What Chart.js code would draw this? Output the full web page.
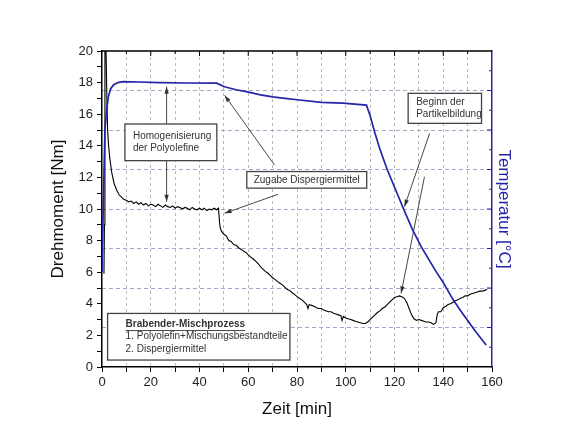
<!DOCTYPE html>
<html>
<head>
<meta charset="utf-8">
<script src="https://cdn.jsdelivr.net/npm/chart.js@4.4.1/dist/chart.umd.min.js"></script>
<style>
  body { margin: 0; background: #fff; }
</style>
</head>
<body>
<canvas id="myChart" width="570" height="440"></canvas>
<script>
// Drehmoment (torque) curve
const torqueTime = [0.8, 1.0, 1.2, 1.6, 2.0, 2.3, 2.7, 3.2, 4, 5, 6, 7, 8, 9, 10, 11,
  12, 13, 14, 15, 16, 17, 18, 19, 20, 21, 22, 23, 24, 25, 26, 27, 28, 29, 30,
  31, 32, 33, 34, 35, 36, 37, 38, 39, 40, 41, 42, 43, 44, 45, 46, 47, 47.8,
  48.2, 48.5, 49, 50, 51, 52, 53, 54, 55, 56, 57, 58, 59, 60, 61, 62, 63, 64,
  65, 66, 67, 68, 69, 70, 71, 72, 73, 74, 75, 76, 77, 78, 79, 80, 81, 82, 83,
  84, 84.5, 85, 86, 87, 88, 89, 90, 91, 92, 93, 94, 95, 96, 97, 98, 98.5, 99,
  100, 101, 102, 103, 104, 105, 106, 107, 108, 109, 110, 111, 112, 113, 114,
  115, 116, 117, 118, 119, 120, 121, 122, 123, 124, 125, 126, 127, 128, 129,
  130, 131, 132, 133, 134, 135, 136, 137, 137.5, 138, 139, 140, 141, 142, 143,
  144, 145, 146, 147, 148, 149, 150, 151, 152, 153, 154, 155, 156, 157, 158];
const torqueValues = [5.9, 9, 20.5, 20.5, 17, 15, 14, 13.2, 12.3, 11.6, 11.2, 10.9, 10.75, 10.6, 10.55, 10.45,
  10.5, 10.35, 10.45, 10.3, 10.4, 10.25, 10.35, 10.2, 10.3, 10.25, 10.15, 10.3, 10.2, 10.1, 10.25, 10.15, 10.1, 10.2, 10.05,
  10.15, 10.1, 10.0, 10.1, 10.05, 9.95, 10.1, 10.0, 9.95, 10.05, 9.95, 10.05, 9.9, 10.0, 9.95, 10.05, 9.95, 10.05,
  9.2, 8.8, 8.6, 8.4, 8.3, 8.0, 7.95, 7.75, 7.7, 7.55, 7.45, 7.35, 7.25, 7.1, 6.95, 6.85, 6.7, 6.55,
  6.35, 6.2, 6.05, 5.95, 5.8, 5.65, 5.55, 5.4, 5.3, 5.2, 5.05, 4.9, 4.85, 4.7, 4.6, 4.45, 4.35, 4.25, 4.1,
  3.95, 3.7, 3.95, 3.9, 3.85, 3.75, 3.7, 3.7, 3.6, 3.55, 3.5, 3.5, 3.4, 3.35, 3.3, 3.25, 2.95, 3.2,
  3.1, 3.05, 3.0, 2.95, 2.9, 2.85, 2.8, 2.75, 2.75, 2.85, 3.0, 3.15, 3.3, 3.45, 3.55,
  3.7, 3.8, 3.95, 4.1, 4.25, 4.4, 4.45, 4.5, 4.45, 4.35, 4.1, 3.7, 3.3, 3.05, 2.95,
  3.0, 2.95, 2.9, 2.85, 2.85, 2.8, 2.7, 2.8, 3.3, 3.5, 3.5, 3.75, 3.85, 3.95, 4.0,
  4.1, 4.2, 4.25, 4.35, 4.4, 4.5, 4.5, 4.6, 4.65, 4.7, 4.75, 4.8, 4.8, 4.85, 4.9];

// Temperatur curve (right axis has no labels in the original)
const tempTime = [0, 0.5, 1.2, 2, 2.6, 3.5, 4.7, 6.5, 8.8, 15, 23.6, 35, 47, 50.3, 55, 59.2, 65, 70,
  75, 81, 90, 98.8, 108.5, 110, 112, 114, 117, 120.5, 124, 127.4, 131, 134.3, 137,
  139.8, 143.9, 146.5, 149.4, 153.5, 157.6];
const tempValues = [48, 80, 120, 131.2, 136.8, 140.8, 142.8, 144, 144.5, 144.3, 144, 143.8, 143.7, 141.9, 140.4, 139.4, 137.8, 136.8,
  136, 135.2, 134, 133.6, 132.6, 127.2, 118.4, 110.4, 100, 89.6, 79.2, 69.6, 60.8, 54, 48.4,
  43.2, 34.4, 29.6, 24.6, 17.6, 11.1];

const xTicks = [0, 20, 40, 60, 80, 100, 120, 140, 160];
const yTicks = [0, 2, 4, 6, 8, 10, 12, 14, 16, 18, 20];

// text boxes and arrows, corners in data units (x = min, y = Nm)
const notes = [
  { box: [9.4, 15.38, 47.1, 13.06], lines: ['Homogenisierung', 'der Polyolefine'], align: 'left' },
  { box: [59.4, 12.37, 108.6, 11.32], lines: ['Zugabe Dispergiermittel'], align: 'center' },
  { box: [125.6, 17.32, 155.7, 15.42], lines: ['Beginn der', 'Partikelbildung'], align: 'left' },
  { box: [2.3, 3.39, 77.1, 0.44], lines: ['Brabender-Mischprozess', '1. Polyolefin+Mischungsbestandteile', '2. Dispergiermittel'], align: 'left', head: true }
];
const arrows = [
  [26.5, 15.38, 26.5, 17.74],
  [26.5, 13.06, 26.5, 10.46],
  [70.8, 12.78, 50.3, 17.2],
  [72.2, 10.93, 50.3, 9.73],
  [134.4, 14.79, 124.1, 10.15],
  [132.3, 12.04, 122.7, 4.66]
];

const blue = '#2424a8';
const fontFam = '"Liberation Sans", Arial, sans-serif';

const notesPlugin = {
  id: 'notes',
  afterDatasetsDraw(chart) {
    const ctx = chart.ctx;
    const xs = chart.scales.x, ys = chart.scales.y, y2 = chart.scales.y2;
    const area = chart.chartArea;
    ctx.save();

    // top frame with inward ticks
    ctx.strokeStyle = '#000';
    ctx.lineWidth = 1.5;
    ctx.beginPath();
    ctx.moveTo(area.left, area.top);
    ctx.lineTo(area.right, area.top);
    ctx.stroke();
    ctx.lineWidth = 1;
    for (let v = 10; v < 160; v += 10) {
      const px = xs.getPixelForValue(v);
      ctx.beginPath();
      ctx.moveTo(px, area.top);
      ctx.lineTo(px, area.top + (v % 20 === 0 ? 5 : 3));
      ctx.stroke();
    }
    // right axis inward ticks
    ctx.strokeStyle = blue;
    for (let v = 10; v < 160; v += 10) {
      const py = y2.getPixelForValue(v);
      ctx.beginPath();
      ctx.moveTo(area.right, py);
      ctx.lineTo(area.right - (v % 20 === 0 ? 5 : 3), py);
      ctx.stroke();
    }

    // arrows
    ctx.strokeStyle = '#333';
    ctx.fillStyle = '#333';
    ctx.lineWidth = 0.9;
    arrows.forEach(a => {
      const x1 = xs.getPixelForValue(a[0]), y1 = ys.getPixelForValue(a[1]);
      const x2 = xs.getPixelForValue(a[2]), y2p = ys.getPixelForValue(a[3]);
      const ang = Math.atan2(y2p - y1, x2 - x1);
      ctx.beginPath();
      ctx.moveTo(x1, y1);
      ctx.lineTo(x2, y2p);
      ctx.stroke();
      ctx.beginPath();
      ctx.moveTo(x2, y2p);
      ctx.lineTo(x2 - 7 * Math.cos(ang) + 2.2 * Math.sin(ang), y2p - 7 * Math.sin(ang) - 2.2 * Math.cos(ang));
      ctx.lineTo(x2 - 7 * Math.cos(ang) - 2.2 * Math.sin(ang), y2p - 7 * Math.sin(ang) + 2.2 * Math.cos(ang));
      ctx.closePath();
      ctx.fill();
    });

    // boxes
    notes.forEach(n => {
      const l = xs.getPixelForValue(n.box[0]), t = ys.getPixelForValue(n.box[1]);
      const r = xs.getPixelForValue(n.box[2]), b = ys.getPixelForValue(n.box[3]);
      ctx.fillStyle = '#fff';
      ctx.fillRect(l, t, r - l, b - t);
      ctx.strokeStyle = '#444';
      ctx.lineWidth = 1.3;
      ctx.strokeRect(l, t, r - l, b - t);
      const lh = 12.2;
      const y0 = (t + b) / 2 - (n.lines.length - 1) * lh / 2;
      ctx.textBaseline = 'middle';
      n.lines.forEach((s, i) => {
        const bold = n.head && i === 0;
        ctx.font = (bold ? 'bold ' : '') + '10px ' + fontFam;
        ctx.fillStyle = '#333';
        let tx;
        if (n.align === 'center') {
          ctx.textAlign = 'center';
          tx = (l + r) / 2;
        } else {
          ctx.textAlign = 'left';
          tx = l + (n.head ? 18 : 8);
        }
        const ty = y0 + i * lh;
        ctx.fillText(s, tx, ty);
        if (bold) {
          const w = ctx.measureText(s).width;
          ctx.lineWidth = 0.9;
          ctx.strokeStyle = '#333';
          ctx.beginPath();
          ctx.moveTo(tx, ty + 6);
          ctx.lineTo(tx + w, ty + 6);
          ctx.stroke();
        }
      });
    });
    ctx.restore();
  }
};

const ctx = document.getElementById('myChart').getContext('2d');
const myChart = new Chart(ctx, {
  type: 'line',
  data: {
    datasets: [{
      label: 'Temperatur',
      data: tempTime.map((t, i) => ({ x: t, y: tempValues[i] })),
      yAxisID: 'y2',
      borderColor: blue,
      borderWidth: 1.7,
      pointRadius: 0,
      tension: 0
    }, {
      label: 'Drehmoment',
      data: torqueTime.map((t, i) => ({ x: t, y: torqueValues[i] })),
      yAxisID: 'y',
      borderColor: '#000',
      borderWidth: 1.1,
      pointRadius: 0,
      tension: 0
    }]
  },
  options: {
    responsive: false,
    animation: false,
    layout: { padding: { top: 51 } },
    plugins: { legend: { display: false }, tooltip: { enabled: false } },
    scales: {
      x: {
        type: 'linear',
        min: 0, max: 160,
        afterFit(scale) { scale.height = 73; },
        ticks: {
          stepSize: 10, autoSkip: false, maxRotation: 0, padding: 3,
          color: '#222', font: { family: fontFam, size: 13 },
          callback: v => xTicks.includes(v) ? v : ''
        },
        grid: {
          color: ctx => (ctx.tick && ctx.tick.value > 0 && ctx.tick.value < 160) ? '#b8b8b8' : 'transparent',
          tickColor: '#000', tickLength: 5, lineWidth: 1
        },
        border: { color: '#000', width: 1.5, dash: [3, 3] },
        title: {
          display: true, text: 'Zeit [min]', color: '#111',
          font: { family: fontFam, size: 17 }, padding: { top: 0, bottom: 20 }
        }
      },
      y: {
        position: 'left',
        min: 0, max: 20,
        afterFit(scale) { scale.width = 102; },
        ticks: {
          stepSize: 1, autoSkip: false, padding: 4,
          color: '#222', font: { family: fontFam, size: 13 },
          callback: v => yTicks.includes(v) ? v : ''
        },
        grid: { drawOnChartArea: false, tickColor: '#000', tickLength: 5 },
        border: { color: '#000', width: 1.5 },
        title: {
          display: true, text: 'Drehmoment [Nm]', color: '#111',
          font: { family: fontFam, size: 17 }, padding: { top: 48, bottom: 0 }
        }
      },
      y2: {
        position: 'right',
        min: 0, max: 160,
        afterFit(scale) { scale.width = 78; },
        ticks: { stepSize: 10, display: false },
        grid: {
          drawTicks: false,
          color: ctx => (ctx.tick && ctx.tick.value % 20 === 0 && ctx.tick.value > 0 && ctx.tick.value < 160) ? '#a6a6c8' : 'transparent',
          lineWidth: 1
        },
        border: { color: blue, width: 1.5, dash: [4, 3] },
        title: {
          display: true, text: 'Temperatur [°C]', color: blue,
          font: { family: fontFam, size: 17 }, padding: { top: 56, bottom: 0 }
        }
      }
    }
  },
  plugins: [notesPlugin]
});
</script>
</body>
</html>
